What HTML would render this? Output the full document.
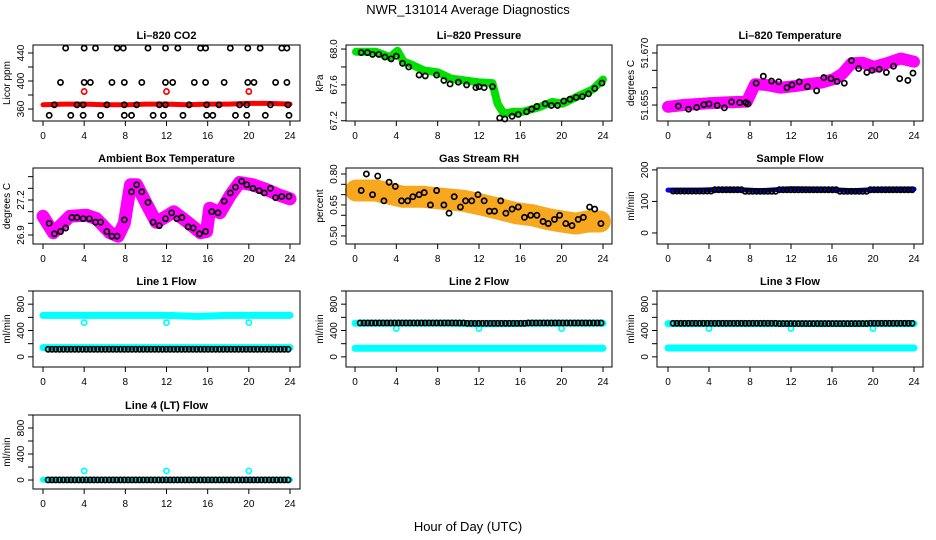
<!DOCTYPE html>
<html><head><meta charset="utf-8"><style>
html,body{margin:0;padding:0;background:#fff;}
svg{display:block;font-family:"Liberation Sans",sans-serif;}
</style></head><body>
<svg id="chart" width="936" height="540" viewBox="0 0 936 540" xmlns="http://www.w3.org/2000/svg">
<text x="468" y="14" font-size="13" text-anchor="middle">NWR_131014  Average Diagnostics</text>
<text x="468" y="531" font-size="13" text-anchor="middle">Hour of Day (UTC)</text>
</svg>
<script>
// ---- data arrays ----
const xTicks = [0,4,8,12,16,20,24];
// CO2
const co2HiT = [2.2,4.0,5.1,7.2,7.8,10.2,11.9,13.1,15.3,15.8,18.2,19.9,21.1,23.2,23.7];
const co2MidT = [1.7,4.0,4.6,6.7,7.9,9.6,11.9,12.6,14.7,15.8,17.6,19.9,20.5,22.6,23.7];
const co2BaseT = [1.1,3.3,3.9,6.2,7.9,9.1,11.3,11.9,14.2,15.9,17.1,19.1,19.8,22.1,23.8];
const co2LowT = [0.6,2.7,3.9,5.6,7.9,8.6,10.7,11.7,13.6,15.9,16.5,18.7,19.8,21.6,23.9];
const co2Levels = [447,398,366,351];
const co2RedT = [0,2,4,6,8,10,12,14,16,18,20,22,24];
const co2RedV = [366,367,367,366,366,367,367,366,367,367,368,368,367];
const co2RedOutT = [4,12,20];
const co2RedOutV = [385,385,385];
// Pressure
const presT = [0.1,2.0,3.4,4.1,4.7,5.4,6.7,8.0,9.3,10.6,11.9,13.3,13.8,14.4,15.3,16.2,17.8,19.1,20.1,21.7,23.0,24.0];
const presV = [67.97,67.97,67.91,67.98,67.86,67.83,67.76,67.74,67.67,67.65,67.63,67.62,67.39,67.28,67.30,67.30,67.35,67.41,67.39,67.48,67.55,67.66];
const presBlkT = [0.6,1.2,1.7,2.3,2.9,3.5,4.0,4.6,5.2,6.2,6.8,7.9,8.6,9.2,10.0,10.8,11.7,12.0,12.5,13.3,14.0,14.5,15.2,15.8,16.6,17.1,17.6,18.4,19.0,19.6,20.2,20.8,21.4,22.0,22.6,23.2,23.9];
const presBlkV = [67.96,67.96,67.94,67.94,67.91,67.89,67.92,67.84,67.80,67.71,67.70,67.71,67.65,67.61,67.63,67.60,67.57,67.58,67.57,67.58,67.23,67.22,67.25,67.27,67.30,67.33,67.36,67.39,67.37,67.37,67.42,67.44,67.46,67.47,67.50,67.56,67.62];
// Li-820 Temperature
const tempT = [0.0,1.5,3.9,6.0,7.7,8.5,9.5,11.0,12.5,13.6,15.0,16.2,17.0,17.9,19.0,20.1,21.5,22.7,24.0];
const tempV = [51.6545,51.6550,51.6555,51.6558,51.6560,51.6610,51.6608,51.6600,51.6605,51.6610,51.6615,51.6625,51.6640,51.6670,51.6672,51.6660,51.6672,51.6684,51.6675];
const tempBlkT = [1.0,2.0,2.8,3.5,4.0,4.8,5.5,6.2,7.0,7.6,7.8,8.6,9.3,10.1,10.8,11.6,12.1,12.8,13.6,14.5,15.2,15.9,16.5,17.2,17.9,18.6,19.4,19.9,20.6,21.3,22.0,22.6,23.4,23.9];
const tempBlkV = [51.6547,51.6538,51.6543,51.6551,51.6553,51.6549,51.6542,51.6559,51.6557,51.6557,51.6553,51.6613,51.6633,51.6619,51.6617,51.6600,51.6608,51.6617,51.6603,51.6591,51.6629,51.6626,51.6618,51.6613,51.6678,51.6655,51.6644,51.6650,51.6653,51.6644,51.6662,51.6626,51.6621,51.6642];
// Ambient
const ambT = [0.0,1.0,2.6,4.2,5.2,6.5,7.3,7.9,8.5,9.1,10.1,11.0,12.0,12.7,13.9,15.3,15.9,16.2,17.2,18.2,19.1,20.4,21.7,23.0,24.0];
const ambV = [27.06,26.92,27.06,27.07,27.04,26.92,26.89,27.00,27.33,27.33,27.16,27.01,27.06,27.10,27.02,26.92,26.93,27.13,27.09,27.24,27.35,27.33,27.29,27.24,27.21];
const ambBlkT = [0.6,1.1,1.7,2.2,2.8,3.3,3.9,4.5,5.1,5.6,6.2,6.7,7.2,7.9,8.6,9.1,9.6,10.2,10.7,11.3,11.9,12.5,13.0,13.5,14.1,14.6,15.2,15.8,16.4,17.0,17.6,18.2,18.7,19.3,19.8,20.4,21.0,21.5,22.1,22.6,23.2,23.9];
const ambBlkV = [27.00,26.91,26.93,26.96,27.05,27.05,27.04,27.04,27.01,27.01,26.93,26.89,26.89,27.03,27.27,27.33,27.27,27.18,27.01,26.98,27.04,27.09,27.04,27.05,26.97,26.96,26.91,26.93,27.10,27.09,27.19,27.26,27.31,27.36,27.33,27.30,27.28,27.26,27.30,27.22,27.23,27.23];
// RH
const rhT = [0.1,2.0,4.6,6.5,8.5,10.5,12.4,14.0,15.6,17.2,18.8,20.0,21.4,22.5,23.7];
const rhV = [0.72,0.72,0.69,0.69,0.68,0.67,0.65,0.63,0.61,0.60,0.58,0.57,0.56,0.57,0.57];
const rhBlkT = [0.6,1.1,1.7,2.2,2.8,3.3,3.9,4.5,5.1,5.6,6.2,6.7,7.3,7.9,8.6,9.1,9.6,10.2,10.7,11.3,11.9,12.5,13.0,13.5,14.1,14.6,15.2,15.8,16.4,17.0,17.6,18.2,18.7,19.3,19.8,20.4,21.0,21.6,22.1,22.7,23.2,23.8];
const rhBlkV = [0.72,0.80,0.70,0.79,0.67,0.76,0.74,0.67,0.67,0.69,0.70,0.71,0.65,0.72,0.65,0.61,0.69,0.64,0.67,0.67,0.70,0.67,0.62,0.62,0.67,0.61,0.63,0.64,0.59,0.60,0.60,0.57,0.56,0.58,0.60,0.56,0.55,0.58,0.59,0.64,0.63,0.56];
// flows (3-hour segment means)
const segT = [0,3,6,9,12,15,18,21,24];
const sampleBlue = [136,136,139,134,140,139,134,139,139];
const sampleBlk = [133,133,137,132,137,137,132,137,137];
const l1CyanHi = [630,630,630,630,630,615,630,630,630];
const l1CyanLo = [140,140,140,140,140,140,140,140,140];
const l1Blk = [115,115,115,115,115,115,115,115,115];
const l1Out = [520,520,520];
const l2CyanHi = [510,510,510,510,500,505,510,510,510];
const l2CyanLo = [130,130,130,130,130,130,130,130,130];
const l2Blk = [515,515,515,515,510,510,515,515,515];
const l2Out = [430,430,430];
const l3CyanHi = [505,505,505,505,505,505,505,505,505];
const l3CyanLo = [135,135,135,135,135,135,135,135,135];
const l3Blk = [510,510,510,510,505,505,505,510,510];
const l3Out = [430,430,430];
const l4CyanLo = [5,5,5,5,5,5,5,5,5];
const l4Blk = [2,2,2,2,2,2,2,2,2];
const l4Out = [140,140,140];
const outT = [4,12,20];

// ---- drawing ----
const NS='http://www.w3.org/2000/svg';
const svg=document.getElementById('chart');
function mk(tag,attrs,parent){const e=document.createElementNS(NS,tag);for(const k in attrs)e.setAttribute(k,attrs[k]);(parent||svg).appendChild(e);return e;}
const cols=[{L:33,R:300,x0:43,x24:290},{L:346,R:612,x0:355,x24:603},{L:657,R:923,x0:668,x24:914}];
const rows=[{T:45,B:121},{T:168,B:244},{T:291,B:367},{T:415,B:489}];

function panel(name,c,r,title,ylab,ymin,ymax,yticks,ylabels){
  const C=cols[c],Rw=rows[r];
  const g=mk('g',{});
  
  
  const sx=h=>C.x0+(C.x24-C.x0)*h/24;
  const sy=v=>Rw.B-(v-ymin)/(ymax-ymin)*(Rw.B-Rw.T);
  const t=mk('text',{x:(C.L+C.R)/2,y:Rw.T-6,'font-size':11,'font-weight':'bold','text-anchor':'middle'},g);
  t.textContent=title;
  
  
  const yl=mk('text',{x:0,y:0,'font-size':10,'text-anchor':'middle',transform:`translate(${C.L-23},${(Rw.T+Rw.B)/2}) rotate(-90)`},g);
  yl.textContent=ylab;
  
  
  const plot=mk('g',{},g);
  
  
  const box=mk('rect',{x:C.L,y:Rw.T,width:C.R-C.L,height:Rw.B-Rw.T,fill:'none',stroke:'#000','stroke-width':1},g);
  
  
  xTicks.forEach(h=>{
    mk('line',{x1:sx(h),x2:sx(h),y1:Rw.B,y2:Rw.B+5,stroke:'#000'},g);
    const tl=mk('text',{x:sx(h),y:Rw.B+18,'font-size':10,'text-anchor':'middle'},g);
    tl.textContent=h;
    
    
  });
  yticks.forEach(v=>{
    mk('line',{x1:C.L,x2:C.L-5,y1:sy(v),y2:sy(v),stroke:'#000'},g);
  });
  ylabels.forEach(([v,s])=>{
    const tl=mk('text',{x:0,y:0,'font-size':10,'text-anchor':'middle',transform:`translate(${C.L-9},${sy(v)}) rotate(-90)`},g);
    tl.textContent=s;
    
    
  });
  return {g:plot,sx,sy};
}
function band(P,ts,vs,color,w,nm){
  const d=ts.map((t,i)=>(i?'L':'M')+P.sx(t).toFixed(1)+','+P.sy(vs[i]).toFixed(1)).join('');
  const p=mk('path',{d,fill:'none',stroke:color,'stroke-width':w,'stroke-linejoin':'round','stroke-linecap':'round'},P.g);
  
  
}
function pts(P,ts,vs,color,nm){
  const g=mk('g',{},P.g);
  
  
  ts.forEach((t,i)=>{
    const c=mk('circle',{cx:P.sx(t),cy:P.sy(vs[i]),r:2.6,fill:'none',stroke:color,'stroke-width':1.7},g);
    
    
  });
}
function regular(P,vs,color,nm,start){ // circles every ~0.37h, value per 3h segment
  const ts=[],v=[];
  for(let h=start;h<=24.01;h+=0.37){ts.push(h);v.push(vs[Math.min(8,Math.round(h/3))]);}
  pts(P,ts,v,color,nm);
}
const CY='#00ffff';

// CO2
let P=panel('co2',0,0,'Li\u2013820 CO2','Licor ppm',342.9,451.4,[360,380,400,420,440],[[360,'360'],[400,'400'],[440,'440']]);
band(P,co2RedT,co2RedV,'#ff0000',5,'co2-red-series');
pts(P,co2RedOutT,co2RedOutV,'#ff0000','co2-red-outliers');
[co2HiT,co2MidT,co2BaseT,co2LowT].forEach((ts,k)=>pts(P,ts,ts.map(()=>co2Levels[k]),'#000','co2-black-series'));
// Pressure
P=panel('pressure',1,0,'Li\u2013820 Pressure','kPa',67.197,68.045,[67.2,67.4,67.6,67.8,68.0],[[67.2,'67.2'],[67.6,'67.6'],[68.0,'68.0']]);
band(P,presT,presV,'#00e000',8,'pressure-green-series');
pts(P,presBlkT,presBlkV,'#000','pressure-black-series');
// Temperature
P=panel('li820-temp',2,0,'Li\u2013820 Temperature','degrees C',51.6504,51.6723,[51.655,51.66,51.665,51.67],[[51.655,'51.655'],[51.67,'51.670']]);
band(P,tempT,tempV,'#ff00ff',12,'temp-magenta-series');
pts(P,tempBlkT,tempBlkV,'#000','temp-black-series');
// Ambient
P=panel('ambient',0,1,'Ambient Box Temperature','degrees C',26.823,27.474,[26.9,27.0,27.1,27.2,27.3,27.4],[[26.9,'26.9'],[27.2,'27.2']]);
band(P,ambT,ambV,'#ff00ff',13,'ambient-magenta-series');
pts(P,ambBlkT,ambBlkV,'#000','ambient-black-series');
// RH
P=panel('rh',1,1,'Gas Stream RH','percent',0.461,0.829,[0.5,0.55,0.6,0.65,0.7,0.75,0.8],[[0.5,'0.50'],[0.65,'0.65'],[0.8,'0.80']]);
band(P,rhT,rhV,'#f7a81e',22,'rh-orange-series');
pts(P,rhBlkT,rhBlkV,'#000','rh-black-series');
// Sample flow
P=panel('sample-flow',2,1,'Sample Flow','ml/min',-35,206,[0,100,200],[[0,'0'],[100,'100'],[200,'200']]);
band(P,segT,sampleBlue,'#0000ff',5,'sample-blue-series');
regular(P,sampleBlk,'#000','sample-black-series',0.5);
// flows
const fTicks=[0,200,400,600,800,1000], fLab=[[0,'0'],[400,'400'],[800,'800']];
P=panel('line1',0,2,'Line 1 Flow','ml/min',-154,1000,fTicks,fLab);
band(P,segT,l1CyanHi,CY,7,'line1-cyan-high');
band(P,segT,l1CyanLo,CY,7,'line1-cyan-low');
pts(P,outT,l1Out,CY,'line1-cyan-outliers');
regular(P,l1Blk,'#000','line1-black-series',0.5);
P=panel('line2',1,2,'Line 2 Flow','ml/min',-154,1000,fTicks,fLab);
band(P,segT,l2CyanHi,CY,7,'line2-cyan-high');
band(P,segT,l2CyanLo,CY,7,'line2-cyan-low');
pts(P,outT,l2Out,CY,'line2-cyan-outliers');
regular(P,l2Blk,'#000','line2-black-series',0.5);
P=panel('line3',2,2,'Line 3 Flow','ml/min',-154,1000,fTicks,fLab);
band(P,segT,l3CyanHi,CY,7,'line3-cyan-high');
band(P,segT,l3CyanLo,CY,7,'line3-cyan-low');
pts(P,outT,l3Out,CY,'line3-cyan-outliers');
regular(P,l3Blk,'#000','line3-black-series',0.5);
P=panel('line4',0,3,'Line 4 (LT) Flow','ml/min',-138,1000,fTicks,fLab);
band(P,segT,l4CyanLo,CY,6,'line4-cyan-series');
pts(P,outT,l4Out,CY,'line4-cyan-outliers');
regular(P,l4Blk,'#000','line4-black-series',0.5);
</script>
</body></html>
